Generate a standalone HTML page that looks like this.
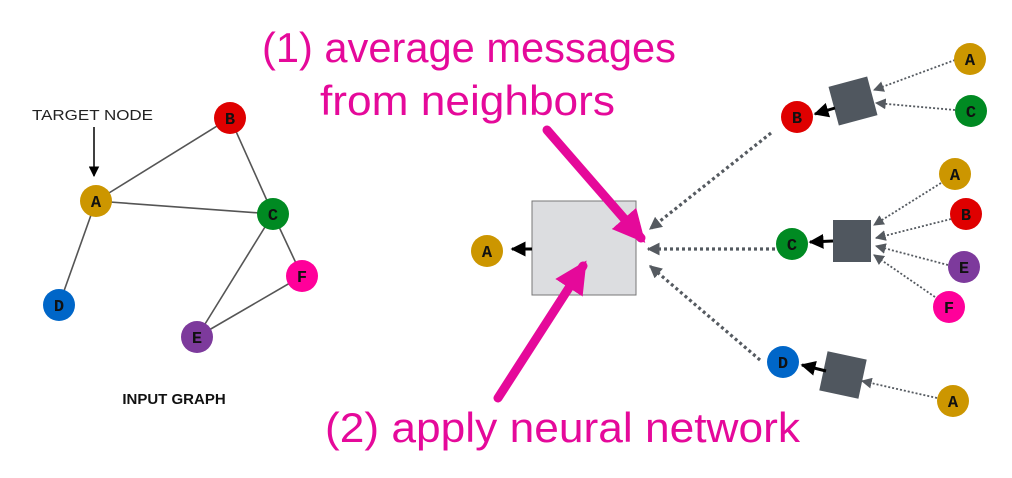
<!DOCTYPE html>
<html><head><meta charset="utf-8"><style>
html,body{margin:0;padding:0;background:#fff;}
svg{display:block}
.n{font-family:"Liberation Mono","DejaVu Sans Mono","Courier New",monospace;font-weight:bold;font-size:17px;text-anchor:middle;fill:#111}
</style></head><body>
<svg width="1012" height="478" viewBox="0 0 1012 478" xmlns="http://www.w3.org/2000/svg">
<defs>
<marker id="g" viewBox="0 0 10 10" refX="9" refY="5" markerWidth="4" markerHeight="4" orient="auto"><path d="M0,0L10,5L0,10z" fill="#555a60"/></marker>
<marker id="gs" viewBox="0 0 10 10" refX="9" refY="5" markerWidth="6" markerHeight="6" orient="auto"><path d="M0,0L10,5L0,10z" fill="#555a60"/></marker>
<marker id="k" viewBox="0 0 10 10" refX="9" refY="5" markerWidth="5" markerHeight="5" orient="auto"><path d="M0,0L10,5L0,10z" fill="#000"/></marker>
<marker id="k1" viewBox="0 0 10 10" refX="9" refY="5" markerWidth="7" markerHeight="7" orient="auto"><path d="M0,0L10,5L0,10z" fill="#000"/></marker>
<marker id="pk" viewBox="0 0 10 10" refX="8" refY="5" markerWidth="3.6" markerHeight="3.6" orient="auto"><path d="M0,0L10,5L0,10z" fill="#e5099a"/></marker>
</defs>
<g stroke="#555" stroke-width="1.6">
<line x1="96" y1="201" x2="230" y2="118"/>
<line x1="96" y1="201" x2="273" y2="214"/>
<line x1="96" y1="201" x2="59" y2="305"/>
<line x1="230" y1="118" x2="273" y2="214"/>
<line x1="273" y1="214" x2="197" y2="337"/>
<line x1="273" y1="214" x2="302" y2="276"/>
<line x1="302" y1="276" x2="197" y2="337"/>
</g>
<text x="32" y="120" font-family="Liberation Sans,sans-serif" font-size="15" fill="#222" textLength="121" lengthAdjust="spacingAndGlyphs">TARGET NODE</text>
<line x1="94" y1="127" x2="94" y2="176" stroke="#000" stroke-width="1.5" marker-end="url(#k1)"/>
<circle cx="230" cy="118" r="16" fill="#df0000"/><text class="n" x="230" y="124">B</text>
<circle cx="96" cy="201" r="16" fill="#cc9600"/><text class="n" x="96" y="207">A</text>
<circle cx="273" cy="214" r="16" fill="#008a22"/><text class="n" x="273" y="220">C</text>
<circle cx="59" cy="305" r="16" fill="#0066c8"/><text class="n" x="59" y="311">D</text>
<circle cx="197" cy="337" r="16" fill="#7d3a9c"/><text class="n" x="197" y="343">E</text>
<circle cx="302" cy="276" r="16" fill="#ff009a"/><text class="n" x="302" y="282">F</text>
<text x="174" y="404" font-family="Liberation Sans,sans-serif" font-weight="bold" font-size="15" fill="#111" text-anchor="middle">INPUT GRAPH</text>
<rect x="532" y="201" width="104" height="94" fill="#dcdde0" stroke="#777" stroke-width="1"/>
<line x1="532" y1="249" x2="512" y2="249" stroke="#000" stroke-width="3" marker-end="url(#k)"/>
<g stroke="#555a60" stroke-width="3.2" stroke-dasharray="3,3" fill="none">
<line x1="771" y1="133" x2="650" y2="229" marker-end="url(#g)"/>
<line x1="775" y1="249" x2="648" y2="249" marker-end="url(#g)"/>
<line x1="760" y1="360" x2="650" y2="266" marker-end="url(#g)"/>
</g>
<line x1="547" y1="130" x2="641" y2="238" stroke="#e5099a" stroke-width="9" stroke-linecap="round" marker-end="url(#pk)"/>
<line x1="498" y1="398" x2="583" y2="266" stroke="#e5099a" stroke-width="9" stroke-linecap="round" marker-end="url(#pk)"/>
<g font-family="Liberation Sans, sans-serif" font-size="42" fill="#e5099a">
<text x="262" y="62" textLength="414" lengthAdjust="spacingAndGlyphs">(1) average messages</text>
<text x="320" y="115" textLength="295" lengthAdjust="spacingAndGlyphs">from neighbors</text>
<text x="325" y="442" textLength="475" lengthAdjust="spacingAndGlyphs">(2) apply neural network</text>
</g>
<g fill="#50575f">
<rect x="833" y="81" width="40" height="40" transform="rotate(-15 853 101)"/>
<rect x="833" y="220" width="38" height="42"/>
<rect x="823" y="355" width="40" height="40" transform="rotate(12 843 375)"/>
</g>
<g stroke="#555a60" stroke-width="1.8" stroke-dasharray="2,2" fill="none">
<line x1="955" y1="60" x2="874" y2="90" marker-end="url(#gs)"/>
<line x1="955" y1="110" x2="876" y2="103" marker-end="url(#gs)"/>
<line x1="941" y1="183" x2="874" y2="225" marker-end="url(#gs)"/>
<line x1="951" y1="219" x2="876" y2="238" marker-end="url(#gs)"/>
<line x1="948" y1="265" x2="876" y2="246" marker-end="url(#gs)"/>
<line x1="935" y1="297" x2="874" y2="255" marker-end="url(#gs)"/>
<line x1="937" y1="398" x2="862" y2="381" marker-end="url(#gs)"/>
</g>
<g stroke="#000" stroke-width="3">
<line x1="835" y1="108" x2="815" y2="114" marker-end="url(#k)"/>
<line x1="833" y1="241" x2="810" y2="242" marker-end="url(#k)"/>
<line x1="826" y1="371" x2="802" y2="365" marker-end="url(#k)"/>
</g>
<circle cx="487" cy="251" r="16" fill="#cc9600"/><text class="n" x="487" y="257">A</text>
<circle cx="970" cy="59" r="16" fill="#cc9600"/><text class="n" x="970" y="65">A</text>
<circle cx="971" cy="111" r="16" fill="#008a22"/><text class="n" x="971" y="117">C</text>
<circle cx="797" cy="117" r="16" fill="#df0000"/><text class="n" x="797" y="123">B</text>
<circle cx="955" cy="174" r="16" fill="#cc9600"/><text class="n" x="955" y="180">A</text>
<circle cx="966" cy="214" r="16" fill="#df0000"/><text class="n" x="966" y="220">B</text>
<circle cx="964" cy="267" r="16" fill="#7d3a9c"/><text class="n" x="964" y="273">E</text>
<circle cx="949" cy="307" r="16" fill="#ff009a"/><text class="n" x="949" y="313">F</text>
<circle cx="792" cy="244" r="16" fill="#008a22"/><text class="n" x="792" y="250">C</text>
<circle cx="783" cy="362" r="16" fill="#0066c8"/><text class="n" x="783" y="368">D</text>
<circle cx="953" cy="401" r="16" fill="#cc9600"/><text class="n" x="953" y="407">A</text>
</svg>
</body></html>
